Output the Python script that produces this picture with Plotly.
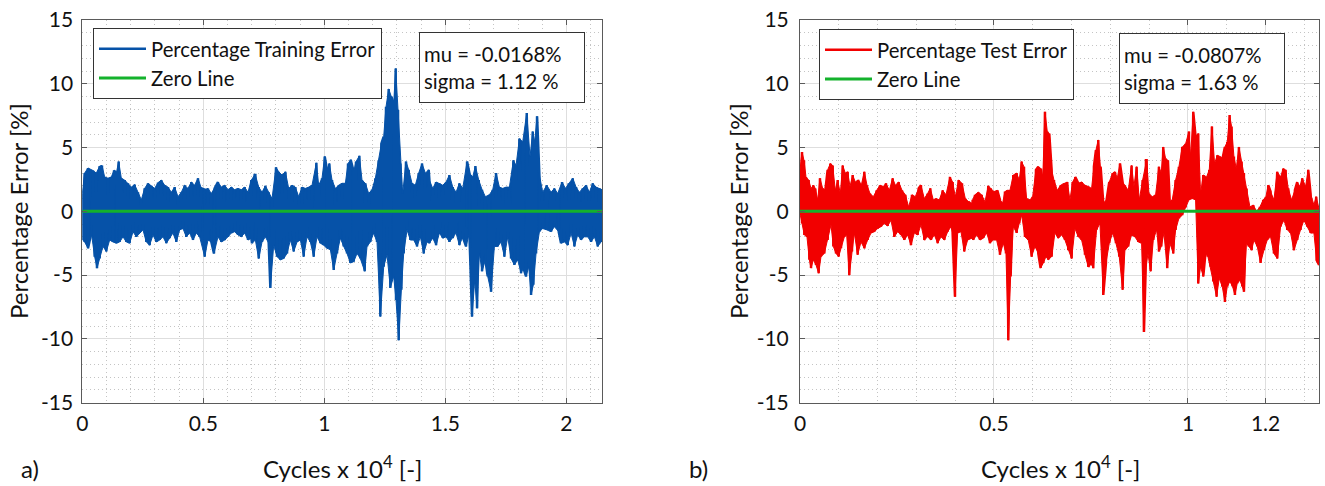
import plotly.graph_objects as go

# ---------------- data: percentage error envelopes (cycles, %) ----------------
# Training set: upper envelope
train_up_cyc = [0, 97, 235, 442, 579, 717, 813, 924, 1061, 1199, 1309, 1406, 1502, 1612, 1750, 1888,
                2025, 2163, 2301, 2438, 2576, 2714, 2851, 2989, 3127, 3264, 3402, 3540, 3678, 3815,
                3953, 4091, 4228, 4366, 4504, 4641, 4779, 4917, 5055, 5192, 5330, 5468, 5605, 5743,
                5881, 6018, 6156, 6294, 6431, 6569, 6707, 6845, 6982, 7120,
                7150, 7287, 7425, 7563, 7701, 7838, 8003, 8114, 8251, 8389, 8527, 8664, 8802, 8940,
                9078, 9215, 9353, 9491, 9670, 9766, 9904, 10014, 10110, 10207, 10317, 10455, 10592,
                10730, 10868, 10978, 11088, 11212, 11308, 11446, 11556, 11694, 11832, 11969, 12107,
                12245, 12355, 12451, 12548, 12658, 12768, 12864, 12947, 13043, 13140, 13236, 13374,
                13484, 13622, 13759, 13897, 14035, 14172, 14310,
                14340, 14477, 14615, 14753, 14891, 15028, 15166, 15304, 15441, 15579, 15717, 15896,
                15992, 16130, 16240, 16378, 16515, 16653, 16818, 16956, 17094, 17231, 17369, 17507,
                17645, 17810, 17920, 18058, 18195, 18361, 18498, 18608, 18691, 18787, 18884, 19021,
                19187, 19366, 19503, 19641, 19820, 19958, 20096, 20261, 20399, 20536, 20674, 20812,
                20949, 21087, 21225, 21362, 21470]
train_up_err = [1.4, 3.0, 3.4, 3.2, 3.0, 3.55, 3.6, 2.7, 2.6, 2.7, 3.2, 3.0, 3.9, 2.6, 2.45, 2.2,
                1.9, 2.1, 1.5, 0.9, 1.8, 2.2, 2.0, 1.8, 2.25, 2.45, 2.05, 1.9, 1.5, 1.9,
                1.15, 1.5, 2.05, 1.8, 2.3, 2.05, 2.6, 1.8, 1.7, 1.8, 1.4, 1.8, 2.3, 1.9,
                2.05, 1.7, 1.9, 1.7, 1.8, 1.7, 1.9, 1.5, 2.45, 2.85,
                2.85, 1.9, 1.5, 2.0, 1.5, 1.0, 3.45, 3.1, 2.85, 3.1, 1.8, 2.05, 1.9, 1.15,
                1.9, 1.8, 1.9, 2.05, 3.8, 2.05, 2.6, 4.3, 3.25, 3.75, 2.45, 1.8, 2.05,
                2.2, 2.2, 3.75, 4.05, 3.1, 3.9, 4.35, 2.45, 2.2, 1.4, 1.7, 2.6,
                4.0, 5.3, 5.85, 8.2, 9.6, 9.0, 8.45, 11.2, 7.95, 3.75, 1.4, 3.9,
                3.25, 2.2, 2.05, 3.0, 3.75, 3.0, 3.25,
                2.45, 1.8, 2.3, 2.2, 2.05, 2.3, 2.85, 1.9, 1.5, 2.2, 1.8, 3.9,
                3.0, 2.7, 3.55, 2.45, 1.7, 1.15, 1.3, 1.7, 3.0, 1.9, 1.8, 1.9,
                1.9, 4.0, 3.6, 5.7, 5.45, 7.7, 4.3, 6.25, 5.45, 7.45, 2.85, 1.5,
                2.05, 1.5, 1.8, 1.4, 2.3, 1.8, 2.2, 2.6, 1.9, 1.5, 1.8, 2.05,
                1.5, 2.2, 1.9, 1.8, 1.7]

# Training set: lower envelope
train_lo_cyc = [20, 97, 235, 373, 511, 607, 717, 855, 992, 1130, 1268, 1406, 1543, 1681, 1819, 1956,
                2094, 2232, 2369, 2507, 2645, 2783, 2920, 3058, 3196, 3333, 3471, 3609, 3746, 3884,
                4022, 4160, 4297, 4435, 4573, 4710, 4848, 5055, 5192, 5330, 5440, 5605, 5743, 5881,
                6018, 6156, 6294, 6431, 6569, 6707, 6845, 6982,
                7012, 7150, 7287, 7425, 7563, 7701, 7769, 7907, 8045, 8182, 8320, 8458, 8596, 8733,
                8871, 9009, 9146, 9284, 9422, 9559, 9697, 9835, 9973, 10110, 10248, 10386, 10523,
                10661, 10799, 10936, 11074, 11212, 11350, 11487, 11666, 11763, 11900, 12038, 12176,
                12313, 12451, 12589, 12726, 12864, 12961, 13071, 13181, 13277, 13415, 13553, 13690,
                13828, 13966, 14104, 14241,
                14340, 14477, 14615, 14753, 14891, 15028, 15166, 15304, 15441, 15579, 15717, 15854,
                15992, 16102, 16212, 16309, 16405, 16515, 16653, 16749, 16887, 17025, 17163, 17300,
                17438, 17576, 17713, 17851, 17989, 18126, 18223, 18333, 18443, 18540, 18636, 18746,
                18884, 19021, 19187, 19366, 19503, 19683, 19779, 19917, 20054, 20192, 20330, 20467,
                20605, 20743, 20881, 21018, 21156, 21294, 21431]
train_lo_err = [-2.25, -2.4, -2.9, -1.7, -3.55, -4.45, -3.7, -2.75, -3.15, -2.25, -2.4, -2.5, -2.4, -2.0, -2.4, -2.5,
                -1.6, -2.0, -1.7, -1.45, -2.4, -2.65, -1.85, -2.4, -2.25, -2.0, -2.5, -2.1, -1.7, -2.4,
                -1.45, -1.35, -2.0, -1.7, -2.25, -1.7, -2.0, -3.55, -2.25, -2.4, -3.3, -2.0, -2.4, -2.25,
                -2.0, -1.7, -1.6, -1.85, -2.0, -1.7, -2.25, -2.1,
                -2.5, -2.25, -3.7, -2.4, -2.0, -2.5, -6.0, -2.65, -3.55, -3.8, -3.7, -3.3, -2.25, -3.15,
                -2.4, -2.25, -3.55, -2.0, -2.4, -3.55, -2.0, -2.5, -2.65, -2.9, -3.0, -4.6, -3.3,
                -2.1, -2.75, -3.3, -4.05, -3.95, -3.3, -3.7, -4.7, -2.75, -2.4, -1.7, -2.4,
                -8.25, -4.35, -3.4, -6.0, -5.1, -6.95, -10.1, -6.15, -3.3, -1.45, -2.25, -2.25,
                -2.75, -2.0, -3.3, -2.4,
                -2.5, -2.1, -2.65, -1.7, -2.1, -2.0, -2.4, -2.1, -1.7, -2.65, -2.0, -2.75,
                -1.7, -8.25, -5.4, -7.6, -3.3, -4.7, -3.8, -5.1, -6.3, -2.75, -2.75, -2.4,
                -3.55, -2.0, -3.7, -4.2, -3.8, -4.85, -4.45, -5.1, -4.35, -6.55, -5.75, -3.3,
                -1.6, -1.35, -1.45, -1.6, -1.2, -1.6, -2.5, -2.4, -2.65, -1.7, -2.75, -1.85,
                -2.25, -2.0, -2.0, -2.4, -2.0, -2.75, -2.4]

# Test set: upper envelope
test_up_cyc = [0, 52, 103, 155, 223, 284, 344, 395, 455, 515, 584, 653, 713, 782, 842, 911, 971,
               1039, 1100, 1168, 1228, 1289, 1357, 1426, 1495, 1572, 1658, 1727, 1804, 1890, 1976,
               2062, 2148, 2216, 2302, 2388, 2457, 2543, 2629, 2715, 2800, 2886, 2972, 3058, 3118,
               3204, 3290, 3359, 3436, 3505, 3591, 3677, 3763, 3866, 3934, 4003, 4089, 4175, 4261,
               4347, 4433,
               4450, 4510, 4596, 4682, 4768, 4853, 4914, 5000, 5085, 5154, 5223, 5283, 5343, 5412,
               5498, 5584, 5652, 5712, 5773, 5841, 5927, 5996, 6082, 6142, 6211, 6254, 6314, 6374,
               6425, 6486, 6546, 6632, 6717, 6803, 6889, 6958, 7027, 7095, 7173, 7259, 7345, 7430,
               7516, 7576, 7628, 7688, 7748, 7817, 7903, 7972, 8058, 8118, 8178, 8247, 8315, 8375,
               8461, 8547, 8607, 8676, 8745, 8831, 8917,
               8934, 8994, 9080, 9166, 9252, 9312, 9363, 9423, 9483, 9535, 9595, 9681, 9767, 9853,
               9939, 10025, 10068, 10136, 10196, 10265, 10325, 10394, 10480, 10549, 10617, 10686,
               10755, 10824, 10892, 10952, 11013, 11073, 11124, 11184, 11244, 11313, 11382, 11442,
               11511, 11597, 11683, 11768, 11854, 11940, 12009, 12069, 12129, 12215, 12301, 12387,
               12456, 12516, 12584, 12670, 12756, 12816, 12885, 12945, 13031, 13100, 13160, 13246,
               13306, 13385]
test_up_err = [3.25, 4.65, 4.0, 2.7, 2.45, 1.8, 2.05, 1.8, 0.9, 2.6, 1.8, 1.65, 3.25, 3.75, 3.6, 1.65, 2.45,
               1.4, 3.6, 3.0, 3.1, 1.95, 2.85, 2.3, 2.45, 1.95, 3.1, 2.05, 1.4, 1.15, 1.65,
               2.05, 1.95, 2.2, 1.65, 2.6, 2.05, 2.3, 1.65, 1.3, 0.35, 1.3, 1.15, 1.8, 2.05,
               1.0, 1.4, 1.8, 0.9, 1.0, 0.9, 1.65, 1.3, 2.7, 2.3, 1.15, 2.45, 2.2, 1.0,
               0.75, 0.5,
               0.9, 1.3, 1.5, 1.3, 0.75, 2.0, 1.8, 1.55, 1.65, 0.9, 0.65, 1.55, 1.65, 1.65,
               2.85, 3.0, 2.45, 3.9, 3.5, 1.0, 0.9, 1.15, 3.25, 3.5, 3.35, 2.3, 7.8, 6.25,
               6.1, 3.25, 2.45, 1.65, 2.05, 2.2, 2.3, 0.9, 2.3, 2.7, 2.2, 2.3, 2.05, 1.95,
               1.8, 3.5, 4.8, 5.6, 3.5, 0.65, 0.9, 2.3, 3.0, 3.1, 2.6, 3.75, 2.3, 2.05,
               1.65, 3.6, 1.95, 3.5, 0.9, 2.45, 4.0,
               4.0, 1.4, 1.15, 1.3, 3.5, 3.0, 5.05, 4.15, 4.0, 0.35, 0.9, 2.45, 3.5, 5.05,
               5.3, 6.25, 4.3, 7.8, 5.85, 6.1, 1.4, 2.85, 2.7, 3.25, 6.65, 3.75,
               4.4, 4.3, 4.15, 5.05, 5.45, 7.55, 6.65, 4.3, 3.35, 5.05, 3.9, 3.0,
               1.8, 0.35, 0.5, 0.0, 0.35, 0.9, 1.15, 2.05, 1.55, 0.9, 3.1, 2.7,
               3.35, 3.25, 1.8, 0.9, 1.65, 2.3, 1.95, 2.6, 1.95, 3.25, 1.4, 0.5,
               1.15, 0.1]

# Test set: lower envelope
test_lo_cyc = [10, 52, 112, 180, 241, 284, 344, 412, 481, 541, 627, 713, 799, 859, 928, 997, 1057,
               1143, 1203, 1271, 1340, 1400, 1486, 1572, 1658, 1744, 1830, 1916, 2002, 2087, 2173,
               2259, 2345, 2431, 2517, 2603, 2689, 2775, 2861, 2946, 3032, 3118, 3204, 3290, 3376,
               3462, 3548, 3634, 3720, 3806, 3891, 3934, 3995, 4063, 4149, 4235, 4321, 4433,
               4467, 4553, 4639, 4725, 4811, 4896, 4982, 5068, 5154, 5240, 5309, 5369, 5429, 5498,
               5584, 5652, 5712, 5798, 5884, 5970, 6056, 6142, 6202, 6271, 6340, 6400, 6486, 6571,
               6657, 6743, 6829, 6915, 7001, 7087, 7173, 7259, 7345, 7430, 7491, 7559, 7645, 7731,
               7817, 7886, 7972, 8058, 8143, 8229, 8315, 8375, 8461, 8547, 8633, 8719, 8805, 8865,
               8908, 8968, 9037, 9106, 9191, 9252, 9312, 9380, 9466, 9535, 9621, 9681, 9767, 9853,
               9939, 10025, 10110, 10196, 10265, 10325, 10394, 10454, 10514, 10583, 10652, 10738,
               10806, 10884, 10952, 11013, 11081, 11150, 11210, 11270, 11339, 11399, 11442, 11511,
               11571, 11640, 11700, 11786, 11871, 11957, 12043, 12129, 12215, 12301, 12387, 12473,
               12559, 12645, 12731, 12816, 12902, 12988, 13074, 13160, 13246, 13315, 13380]
test_lo_err = [-0.3, -0.95, -1.85, -2.0, -3.8, -4.45, -3.8, -4.2, -4.85, -3.55, -3.3, -2.25, -1.05, -2.75, -3.3, -3.55, -2.9,
               -2.0, -1.85, -5.0, -3.15, -1.7, -3.4, -2.4, -2.9, -2.25, -1.7, -1.6, -1.35, -1.2, -0.95,
               -1.15, -0.7, -2.0, -1.6, -1.85, -2.25, -1.85, -2.65, -1.7, -1.85, -1.05, -2.25, -2.0, -2.25,
               -1.85, -2.5, -2.0, -2.25, -1.6, -1.2, -1.7, -6.7, -1.7, -1.6, -3.15, -2.25, -2.1,
               -2.25, -1.85, -2.25, -2.1, -1.7, -2.5, -2.25, -2.25, -3.4, -2.5, -3.3, -10.1, -5.1, -1.2,
               -1.7, -0.95, -0.3, -2.0, -2.25, -3.55, -2.75, -3.3, -4.45, -4.05, -3.55, -3.8, -3.55, -1.7,
               -2.1, -1.85, -2.25, -3.05, -3.7, -1.35, -2.0, -2.25, -3.4, -4.35, -4.05, -4.45, -1.45, -0.95,
               -6.55, -4.05, -2.5, -1.7, -2.5, -3.55, -6.15, -3.05, -2.75, -1.85, -2.0, -2.4, -2.5, -9.45,
               -4.7, -3.3, -4.7, -2.25, -1.45, -3.15, -2.75, -1.7, -4.45, -2.5, -3.3, -1.45, -0.55, -0.3,
               0.3, 0.9, 1.0, 0.9, -5.65, -4.35, -5.1, -3.15, -3.55, -4.35, -5.5, -6.7,
               -5.25, -5.9, -7.1, -5.9, -5.5, -5.9, -6.55, -5.65, -5.4, -5.9, -6.3, -2.25,
               -2.75, -3.05, -2.25, -2.75, -4.05, -3.05, -2.25, -2.0, -3.3, -3.7, -1.2, -0.7,
               -1.45, -1.7, -3.05, -2.25, -1.45, -0.7, -1.2, -1.7, -1.7, -3.8, -4.2]

# axis ticks and annotations
y_ticks = [-15, -10, -5, 0, 5, 10, 15]
train_x_ticks = [0, 0.5, 1, 1.5, 2]
test_x_ticks = [0, 0.5, 1, 1.2]
train_stats = ("-0.0168%", "1.12 %")
test_stats = ("-0.0807%", "1.63 %")

# ---------------- styling ----------------
W, H = 1325, 486
FONT = "Lato, 'Open Sans', sans-serif"
BLUE = "#0652a8"
RED = "#f20000"
GREEN = "#14b22c"
TEXT = "#111111"
AXIS = "#5a5a5a"
TICK_SIZE = 21
LEG_SIZE = 20.3
TITLE_SIZE = 24


def series(up_c, up_v, lo_c, lo_v):
    """Interleave the upper and lower envelope readings into one trace (x in 10^4 cycles)."""
    pts = sorted([(c, 0, v) for c, v in zip(up_c, up_v)] + [(c, 1, v) for c, v in zip(lo_c, lo_v)])
    return [p[0] / 1e4 for p in pts], [p[2] for p in pts]


def band(up_c, up_v, lo_c, lo_v):
    """Closed outline of the error band: along the upper envelope, back along the lower one."""
    xs = [c / 1e4 for c in up_c] + [c / 1e4 for c in reversed(lo_c)]
    ys = list(up_v) + list(reversed(lo_v))
    return xs, ys


def fx(px):
    return px / W


def fy(py):
    return 1 - py / H


train_x, train_y = series(train_up_cyc, train_up_err, train_lo_cyc, train_lo_err)
test_x, test_y = series(test_up_cyc, test_up_err, test_lo_cyc, test_lo_err)
train_bx, train_by = band(train_up_cyc, train_up_err, train_lo_cyc, train_lo_err)
test_bx, test_by = band(test_up_cyc, test_up_err, test_lo_cyc, test_lo_err)

fig = go.Figure()
# training error: dense band + oscillating line
fig.add_trace(go.Scatter(x=train_bx, y=train_by, mode="lines", fill="toself", fillcolor=BLUE,
                         line=dict(color=BLUE, width=1), showlegend=False, hoverinfo="skip",
                         xaxis="x", yaxis="y"))
fig.add_trace(go.Scatter(x=train_x, y=train_y, mode="lines", name="Percentage Training Error",
                         line=dict(color=BLUE, width=2.5), xaxis="x", yaxis="y", legend="legend"))
fig.add_trace(go.Scatter(x=[0, max(train_x)], y=[0, 0], mode="lines", name="Zero Line",
                         line=dict(color=GREEN, width=3), xaxis="x", yaxis="y", legend="legend"))
# test error
fig.add_trace(go.Scatter(x=test_bx, y=test_by, mode="lines", fill="toself", fillcolor=RED,
                         line=dict(color=RED, width=1), showlegend=False, hoverinfo="skip",
                         xaxis="x2", yaxis="y2"))
fig.add_trace(go.Scatter(x=test_x, y=test_y, mode="lines", name="Percentage Test Error",
                         line=dict(color=RED, width=2.5), xaxis="x2", yaxis="y2", legend="legend2"))
fig.add_trace(go.Scatter(x=[0, max(test_x)], y=[0, 0], mode="lines", name="Zero Line",
                         line=dict(color=GREEN, width=3), xaxis="x2", yaxis="y2", legend="legend2"))


def axis_common(**kw):
    base = dict(showline=True, linecolor=AXIS, linewidth=1, mirror="ticks", automargin=False,
                ticks="inside", ticklen=5, tickcolor=AXIS, tickwidth=1,
                showgrid=True, gridcolor="#dedede", gridwidth=1, zeroline=False,
                tickfont=dict(family=FONT, size=TICK_SIZE, color=TEXT), layer="above traces")
    base.update(kw)
    return base


minor_grid = dict(showgrid=True, gridcolor="#c4c4c4", griddash="1px,3px")
ydom = [fy(402.7), fy(20)]
yaxis_cfg = dict(range=[-15, 15], domain=ydom, tickvals=y_ticks, ticktext=[str(v) for v in y_ticks],
                 minor=dict(dtick=1, tick0=0, **minor_grid))

fig.update_layout(
    width=W, height=H,
    margin=dict(l=0, r=0, t=0, b=0, autoexpand=False),
    paper_bgcolor="white", plot_bgcolor="white",
    font=dict(family=FONT, color=TEXT),
    xaxis=axis_common(domain=[fx(82.3), fx(602)], range=[0, 2.147], anchor="y",
                      tickvals=train_x_ticks, ticktext=[f"{v:g}" for v in train_x_ticks],
                      minor=dict(dtick=0.1, tick0=0, **minor_grid), ticklabelstandoff=2),
    yaxis=axis_common(anchor="x", ticklabelstandoff=4, **yaxis_cfg),
    xaxis2=axis_common(domain=[fx(800), fx(1319.3)], range=[0, 1.3385], anchor="y2",
                       tickvals=test_x_ticks, ticktext=[f"{v:g}" for v in test_x_ticks],
                       minor=dict(dtick=0.1, tick0=0, **minor_grid), ticklabelstandoff=2),
    yaxis2=axis_common(anchor="x2", ticklabelstandoff=6, **yaxis_cfg),
    legend=dict(x=fx(93), y=fy(28), xanchor="left", yanchor="top", bgcolor="white",
                bordercolor="#333333", borderwidth=1, font=dict(family=FONT, size=LEG_SIZE, color=TEXT),
                itemwidth=47, tracegroupgap=0),
    legend2=dict(x=fx(819), y=fy(29), xanchor="left", yanchor="top", bgcolor="white",
                 bordercolor="#333333", borderwidth=1, font=dict(family=FONT, size=LEG_SIZE, color=TEXT),
                 itemwidth=47, tracegroupgap=0),
    showlegend=True,
)

annotations = []
for cx in (18, 738):
    annotations.append(dict(text="Percentage Error [%]", x=fx(cx), y=fy(211), xref="paper", yref="paper",
                            textangle=-90, showarrow=False, font=dict(family=FONT, size=TITLE_SIZE, color=TEXT),
                            xanchor="center", yanchor="middle"))
for cx in (342, 1060):
    annotations.append(dict(text="Cycles x 10<sup>4</sup> [-]", x=fx(cx), y=fy(467), xref="paper", yref="paper",
                            showarrow=False, font=dict(family=FONT, size=TITLE_SIZE, color=TEXT),
                            xanchor="center", yanchor="middle"))
for lab, cx in (("a)", 30), ("b)", 698)):
    annotations.append(dict(text=lab, x=fx(cx), y=fy(468), xref="paper", yref="paper",
                            showarrow=False, font=dict(family=FONT, size=TITLE_SIZE, color=TEXT),
                            xanchor="center", yanchor="middle"))
for (mu, sig), left, top in ((train_stats, 419, 32), (test_stats, 1119, 33)):
    annotations.append(dict(text=f"mu = {mu}<br>sigma = {sig}", x=fx(left), y=fy(top), xref="paper",
                            yref="paper", xanchor="left", yanchor="top", align="left", valign="middle",
                            showarrow=False, font=dict(family=FONT, size=LEG_SIZE, color=TEXT),
                            bgcolor="white", bordercolor="#333333", borderwidth=1, borderpad=4,
                            width=156, height=61))
fig.update_layout(annotations=annotations)

fig.write_html("out.html")
